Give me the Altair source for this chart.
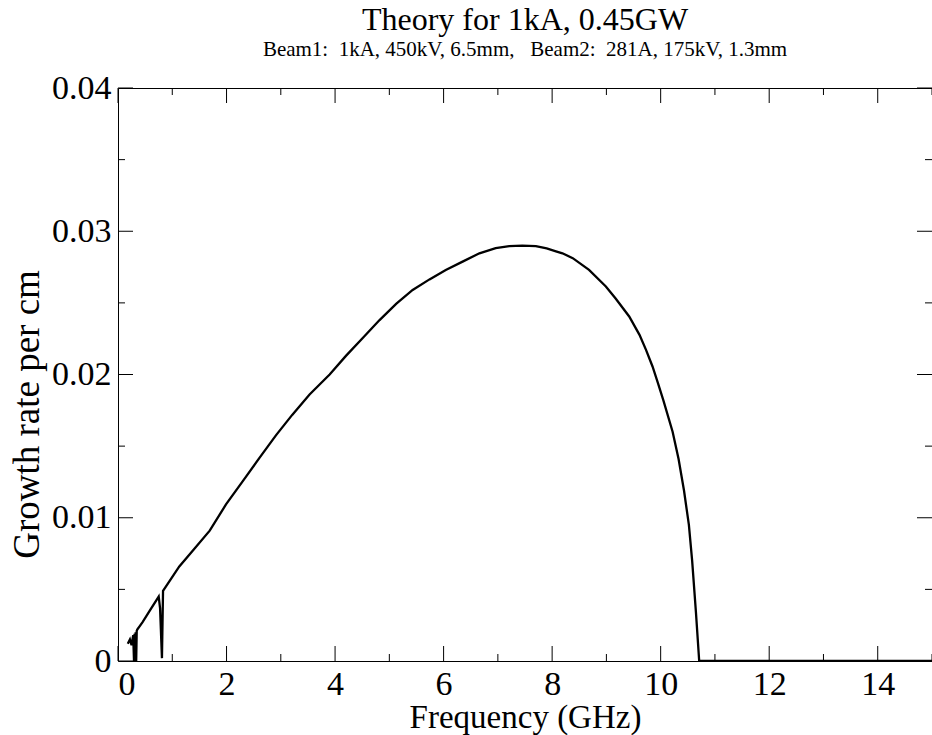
import altair as alt
import pandas as pd

# ---- data ----
freq = [0.18, 0.22, 0.25, 0.28, 0.295, 0.305, 0.315, 0.325, 0.335, 0.345, 0.355,
        0.45, 0.6, 0.75, 0.775, 0.81, 0.83, 1.13, 1.4, 1.69, 1.99, 2.30, 2.60, 2.91,
        3.21, 3.53, 3.9, 4.20, 4.51, 4.82, 5.13, 5.43, 5.74, 6.04, 6.35, 6.66, 6.96,
        7.21, 7.45, 7.70, 7.90, 8.07, 8.19, 8.38, 8.68, 8.99, 9.17, 9.42, 9.61, 9.73,
        9.85, 9.95, 10.05, 10.22, 10.33, 10.43, 10.52, 10.58, 10.65, 10.71,
        11.0, 12.0, 13.0, 14.0, 15.0]
rate = [0.0012, 0.0015, 0.0011, 0.0018, 0.0, 0.0019, 0.0, 0.0020, 0.0, 0.0021, 0.0022,
        0.0027, 0.0036, 0.0045, 0.0037, 0.0002, 0.0049, 0.0066, 0.0078, 0.0091, 0.01093, 0.01256, 0.01414, 0.01575,
        0.01718, 0.0186, 0.0200, 0.0213, 0.02255, 0.0238, 0.02495, 0.0259, 0.02664, 0.0273, 0.02788, 0.02846, 0.02882,
        0.02896, 0.0290, 0.02896, 0.02880, 0.0286, 0.02846, 0.02812, 0.0273, 0.02614, 0.0253, 0.02405, 0.02277, 0.02172,
        0.02056, 0.0194, 0.0182, 0.0160, 0.0141, 0.0119, 0.0095, 0.0070, 0.0034, 0.0,
        0.0, 0.0, 0.0, 0.0, 0.0]

x_major = [0, 2, 4, 6, 8, 10, 12, 14]
x_minor = [1, 3, 5, 7, 9, 11, 13, 15]
y_major = [0, 0.01, 0.02, 0.03, 0.04]
y_minor = [0.005, 0.015, 0.025, 0.035]

title_text = "Theory for 1kA, 0.45GW"
subtitle_text = "Beam1:\u00a0 1kA, 450kV, 6.5mm,\u00a0\u00a0 Beam2:\u00a0 281A, 175kV, 1.3mm"
x_title = "Frequency (GHz)"
y_title = "Growth rate per cm"

W, H = 814, 573
SERIF = "Liberation Serif, Times New Roman, serif"

df = pd.DataFrame({"f": freq, "g": rate, "i": list(range(len(freq)))})

x_enc = alt.X("f:Q", scale=alt.Scale(domain=[0, 15], nice=False, zero=False),
              axis=alt.Axis(values=x_major, title=x_title, format="d",
                            labelPadding=6, titleY=56, titleBaseline="middle",
                            titleFontSize=33))
y_enc = alt.Y("g:Q", scale=alt.Scale(domain=[0, 0.04], nice=False, zero=False),
              axis=alt.Axis(values=y_major, title=y_title,
                            labelExpr="datum.value == 0 ? '0' : format(datum.value, '.2f')",
                            labelPadding=7, titleX=-91, titleY=326,
                            titleAngle=-90, titleAlign="center", titleBaseline="middle",
                            titleFontSize=37))

line = alt.Chart(df).mark_line(color="black", strokeWidth=2.3, clip=True).encode(
    x=x_enc, y=y_enc, order="i:Q")

def xticks(vals, length, top):
    d = pd.DataFrame({"f": vals})
    if top:
        return alt.Chart(d).mark_rule(color="black", strokeWidth=1).encode(
            x=x_enc, y=alt.value(0), y2=alt.value(length))
    return alt.Chart(d).mark_rule(color="black", strokeWidth=1).encode(
        x=x_enc, y=alt.value(H), y2=alt.value(H - length))

def yticks(vals, length, right):
    d = pd.DataFrame({"g": vals})
    if right:
        return alt.Chart(d).mark_rule(color="black", strokeWidth=1).encode(
            y=y_enc, x=alt.value(W), x2=alt.value(W - length))
    return alt.Chart(d).mark_rule(color="black", strokeWidth=1).encode(
        y=y_enc, x=alt.value(0), x2=alt.value(length))

layers = [
    xticks(x_major, 15, False), xticks(x_minor, 7, False),
    xticks(x_major, 15, True), xticks(x_minor, 7, True),
    yticks(y_major, 15, False), yticks(y_minor, 7, False),
    yticks(y_major, 15, True), yticks(y_minor, 7, True),
    line,
]

chart = alt.layer(*layers).properties(
    width=W, height=H,
    autosize=alt.AutoSizeParams(type="none"),
    padding={"left": 118, "top": 88, "right": 0, "bottom": 74},
    background="white",
    title=alt.TitleParams(text=title_text, subtitle=subtitle_text, anchor="middle",
                          font=SERIF, fontSize=32, fontWeight="normal", color="black",
                          subtitleFont=SERIF, subtitleFontSize=21, subtitleColor="black",
                          subtitlePadding=2, offset=10),
).configure_view(stroke="black", strokeWidth=1).configure_axis(
    labelFont=SERIF, labelFontSize=34, labelColor="black",
    titleFont=SERIF, titleFontWeight="normal", titleColor="black",
    ticks=False, domain=False, grid=False,
).configure_title(font=SERIF, subtitleFont=SERIF)

chart.save("out.html", embed_options={"renderer": "svg", "actions": False})
